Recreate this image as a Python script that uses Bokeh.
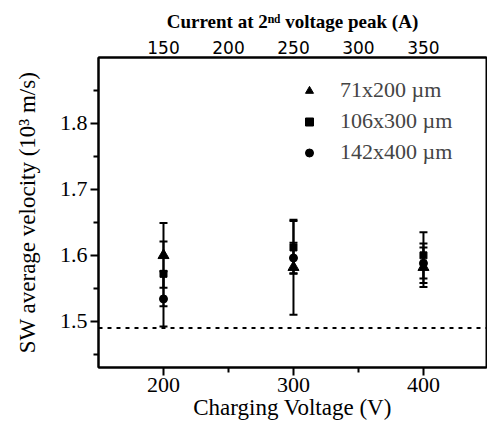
from bokeh.plotting import figure
from bokeh.models import (Range1d, LinearAxis, FixedTicker, Whisker, ColumnDataSource,
                          Span, Legend, LegendItem, TeeHead)
from bokeh.embed import file_html
from bokeh.resources import INLINE

# ---- data ----
voltage = [200, 300, 400]
tri_val = [1.600, 1.582, 1.582]
tri_err = [0.049, 0.072, 0.030]
sq_val = [1.572, 1.612, 1.600]
sq_err = [0.049, 0.040, 0.035]
circ_val = [1.534, 1.596, 1.588]
circ_err = [0.042, 0.023, 0.030]
labels = ["71x200 \u00b5m", "106x300 \u00b5m", "142x400 \u00b5m"]
threshold = 1.49
x_ticks = [200, 300, 400]
x_minor = [250, 350]
y_ticks = [1.5, 1.6, 1.7, 1.8]
y_minor = [1.45, 1.55, 1.65, 1.75, 1.85]
current_ticks = [150, 200, 250, 300, 350]
current_offset = 50  # current (A) = voltage (V) - 50

SERIF = "Liberation Serif"
X_END = 448.5

p = figure(width=487, height=424, x_range=Range1d(150, X_END), y_range=Range1d(1.43, 1.9),
           output_backend="svg", toolbar_location=None,
           min_border_left=98, min_border_right=1, min_border_top=57, min_border_bottom=57)
p.extra_x_ranges = {"current": Range1d(150 - current_offset, X_END - current_offset)}
p.xgrid.visible = False
p.ygrid.visible = False
p.outline_line_color = "black"
p.outline_line_width = 2
p.outline_line_alpha = 1

p.xaxis.ticker = FixedTicker(ticks=x_ticks, minor_ticks=x_minor)
p.yaxis.ticker = FixedTicker(ticks=y_ticks, minor_ticks=y_minor)
p.xaxis.axis_label = "Charging Voltage (V)"
p.yaxis.axis_label = "SW average velocity (10\u00b3 m/s)"

for ax in list(p.xaxis) + list(p.yaxis):
    ax.axis_line_width = 2
    ax.major_tick_line_width = 2
    ax.minor_tick_line_width = 2
    ax.major_tick_in = 0
    ax.major_tick_out = 8
    ax.minor_tick_in = 0
    ax.minor_tick_out = 5
    ax.major_label_text_font = SERIF
    ax.major_label_text_font_size = "22px"
    ax.major_label_text_color = "black"
    ax.axis_label_text_font = SERIF
    ax.axis_label_text_font_size = "23px"
    ax.axis_label_text_font_style = "normal"
    ax.axis_label_text_color = "black"
    ax.major_label_standoff = 2

p.xaxis.axis_label_standoff = 0
p.yaxis.axis_label_standoff = 17
p.yaxis.major_label_standoff = 3

top = LinearAxis(x_range_name="current", ticker=FixedTicker(ticks=current_ticks),
                 axis_label="Current at 2\u207f\u1d48 voltage peak (A)")
top.axis_line_width = 2
top.major_tick_in = 0
top.major_tick_out = 0
top.minor_tick_in = 0
top.minor_tick_out = 0
top.major_label_standoff = 4
top.major_label_text_font = "DejaVu Sans"
top.major_label_text_font_size = "17px"
top.major_label_text_color = "black"
top.axis_label_text_font = SERIF
top.axis_label_text_font_size = "19px"
top.axis_label_text_font_style = "bold"
top.axis_label_text_color = "black"
top.axis_label_standoff = 6
p.add_layout(top, "above")

p.add_layout(Span(location=threshold, dimension="width", line_dash="4 5",
                  line_width=2, line_color="black"))

renderers = []
for vals, errs, marker, size in [(tri_val, tri_err, "triangle", 11),
                                 (sq_val, sq_err, "square", 7),
                                 (circ_val, circ_err, "circle", 8)]:
    src = ColumnDataSource(dict(
        x=voltage, y=vals,
        upper=[v + e for v, e in zip(vals, errs)],
        lower=[v - e for v, e in zip(vals, errs)]))
    w = Whisker(base="x", upper="upper", lower="lower", source=src,
                line_width=2, line_color="black",
                upper_head=TeeHead(size=8, line_width=2, line_color="black"),
                lower_head=TeeHead(size=8, line_width=2, line_color="black"))
    p.add_layout(w)
    r = p.scatter(x="x", y="y", source=src, marker=marker, size=size,
                  fill_color="black", line_color="black")
    renderers.append(r)

legend = Legend(items=[LegendItem(label=l, renderers=[r]) for l, r in zip(labels, renderers)],
                location=(201, 202), border_line_alpha=0, background_fill_alpha=0,
                label_text_font=SERIF, label_text_font_size="22px",
                glyph_width=20, glyph_height=25, label_height=25, label_standoff=21,
                spacing=5, padding=0, margin=0)
p.add_layout(legend)

open("out.html", "w").write(file_html(p, INLINE))
